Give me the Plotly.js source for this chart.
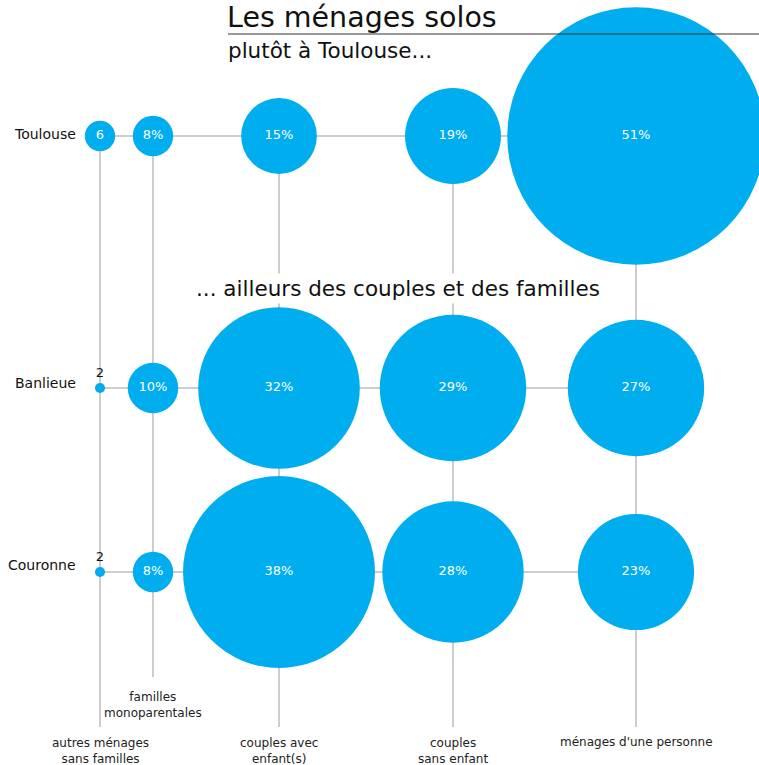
<!DOCTYPE html>
<html>
<head>
<meta charset="utf-8">
<script src="https://cdn.plot.ly/plotly-3.0.1.min.js"></script>
<style>html,body{margin:0;padding:0;background:#fff}#chart{width:759px;height:765px}</style>
</head>
<body>
<div id="chart"></div>
<script>
// ---- data ----
const rows = ["Toulouse", "Banlieue", "Couronne"];
const columns = ["autres ménages<br>sans familles", "familles<br>monoparentales", "couples avec<br>enfant(s)", "couples<br>sans enfant", "ménages d'une personne"];
const toulouseValues = [6, 8, 15, 19, 51];
const banlieueValues = [2, 10, 32, 29, 27];
const couronneValues = [2, 8, 38, 28, 23];
const toulouseLabels = ["6", "8%", "15%", "19%", "51%"];
const banlieueLabels = ["2", "10%", "32%", "29%", "27%"];
const couronneLabels = ["2", "8%", "38%", "28%", "23%"];

// ---- layout constants (positions in axis units = pixels) ----
const colPos = [100, 153, 279, 453, 636];
const rowPos = [136, 388, 572];
const rowLabelPos = [134, 383, 565];
const colLineEnd = [727, 677, 727, 727, 727];
const colLabelY = [751, 705, 751, 751, 742];

const BLUE = '#00adef';
const GRID = '#bdbdbd';
const FONT = 'DejaVu Sans, Verdana, sans-serif';

const values = [toulouseValues, banlieueValues, couronneValues];
const labels = [toulouseLabels, banlieueLabels, couronneLabels];

const traces = [];
// connector lines
rows.forEach((r, i) => {
  traces.push({
    x: [colPos[0], colPos[colPos.length - 1]], y: [rowPos[i], rowPos[i]],
    mode: 'lines', line: {color: GRID, width: 1.5}, hoverinfo: 'skip', showlegend: false
  });
});
columns.forEach((c, j) => {
  traces.push({
    x: [colPos[j], colPos[j]], y: [rowPos[0], colLineEnd[j]],
    mode: 'lines', line: {color: GRID, width: 1.5}, hoverinfo: 'skip', showlegend: false
  });
});
// bubbles
rows.forEach((r, i) => {
  const small = values[i].map(v => v < 4);
  traces.push({
    x: colPos, y: colPos.map(() => rowPos[i]),
    mode: 'markers+text',
    name: r,
    text: labels[i],
    textposition: small.map(s => s ? 'top center' : 'middle center'),
    textfont: {family: FONT, size: 13, color: small.map(s => s ? '#111' : '#ffffff')},
    marker: {size: values[i], sizemode: 'diameter', sizeref: 1 / 5.05, color: BLUE, line: {width: 0}, opacity: 1},
    cliponaxis: true,
    showlegend: false,
    hoverinfo: 'text'
  });
});

const annotations = [];
rows.forEach((r, i) => {
  annotations.push({x: 78, y: rowLabelPos[i], xref: 'x', yref: 'y', text: r, showarrow: false,
    xanchor: 'right', yanchor: 'middle', font: {family: FONT, size: 14, color: '#111'}});
});
columns.forEach((c, j) => {
  annotations.push({x: colPos[j], y: colLabelY[j], xref: 'x', yref: 'y', text: c, showarrow: false,
    xanchor: 'center', yanchor: 'middle', align: 'center', font: {family: FONT, size: 12, color: '#222'}});
});
annotations.push({x: 226, y: 17, xref: 'x', yref: 'y', text: 'Les ménages solos', showarrow: false,
  xanchor: 'left', yanchor: 'middle', borderpad: 0, font: {family: FONT, size: 28.5, color: '#111'}});
annotations.push({x: 226, y: 50, xref: 'x', yref: 'y', text: 'plutôt à Toulouse...', showarrow: false,
  xanchor: 'left', yanchor: 'middle', font: {family: FONT, size: 21.5, color: '#111'}});
annotations.push({x: 398, y: 288, xref: 'x', yref: 'y', text: '... ailleurs des couples et des familles', showarrow: false,
  xanchor: 'center', yanchor: 'middle', bgcolor: '#ffffff', borderpad: 2, font: {family: FONT, size: 21.5, color: '#111'}});

const layout = {
  width: 759, height: 765,
  margin: {l: 0, r: 0, t: 0, b: 0},
  paper_bgcolor: '#ffffff', plot_bgcolor: '#ffffff',
  xaxis: {range: [0, 759], visible: false, fixedrange: true},
  yaxis: {range: [765, 0], visible: false, fixedrange: true},
  shapes: [{type: 'line', xref: 'x', yref: 'y', x0: 228, x1: 759, y0: 34, y1: 34, line: {color: '#333', width: 1}}],
  annotations: annotations,
  showlegend: false
};

Plotly.newPlot('chart', traces, layout, {displayModeBar: false, staticPlot: true});
</script>
</body>
</html>
